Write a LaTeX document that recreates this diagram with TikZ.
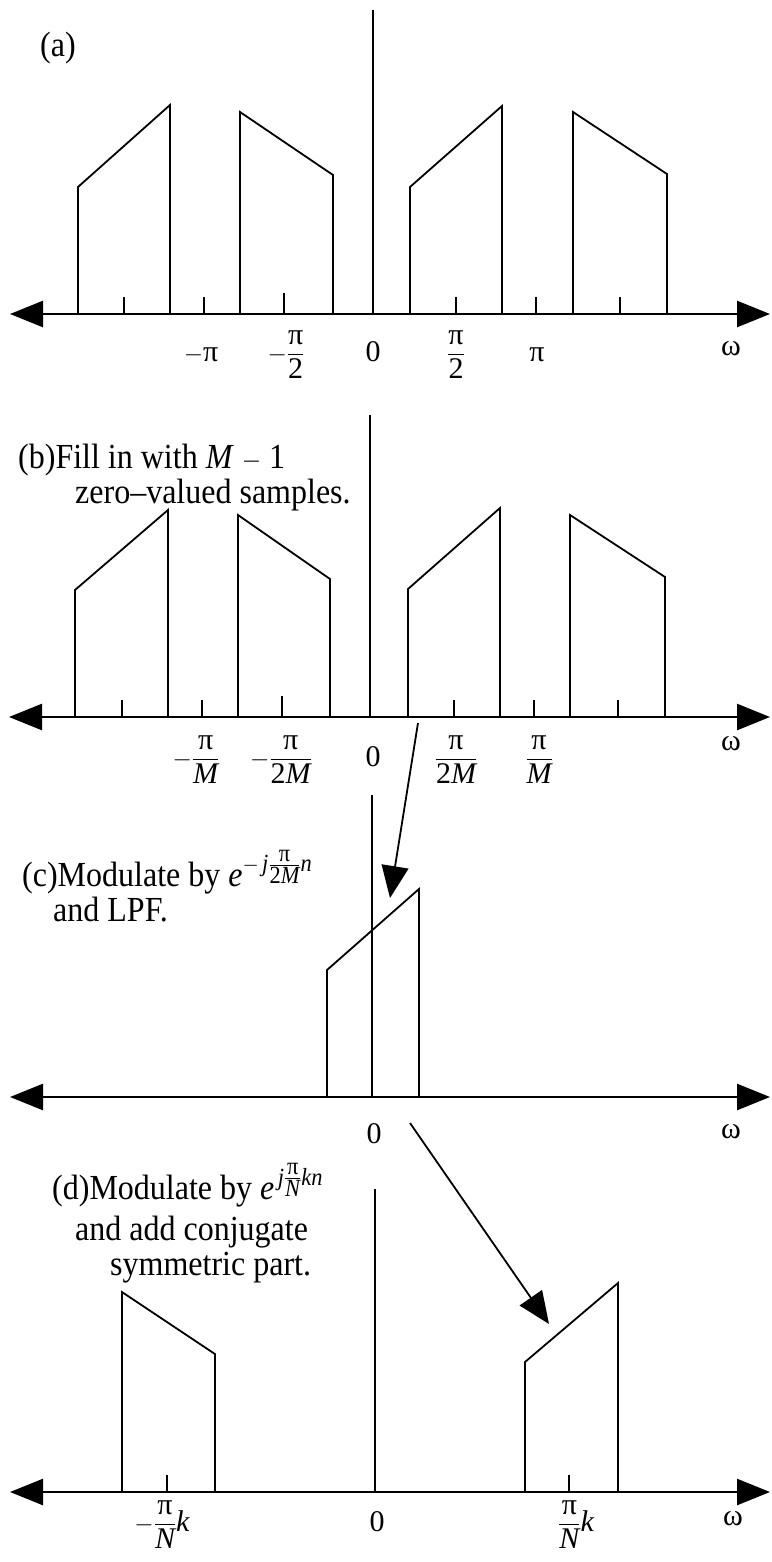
\documentclass[tikz,border=0pt]{standalone}
\usepackage{amsmath}
\usepackage{graphicx}
\usepackage{fontspec}
\setmainfont{Liberation Serif}
\usetikzlibrary{arrows.meta}

\newcommand{\gpi}{\textup{π}}
\newcommand{\itv}[1]{\textit{#1}}
\newcommand{\tallx}[1]{\scalebox{1}[1.1]{#1}}
\newcommand{\supfrac}[2]{\genfrac{}{}{}{1}{#1}{#2}}

\tikzset{
  axisline/.style={line width=2.6pt,{Triangle[length=33pt,width=26pt]}-{Triangle[length=33pt,width=26pt]}},
  spec/.style={line width=1.8pt},
  tickmark/.style={line width=1.6pt},
  lbl/.style={anchor=base,inner sep=0pt,font=\fontsize{30}{32}\selectfont},
  note/.style={anchor=base west,inner sep=0pt,font=\fontsize{32}{32}\selectfont},
  bigarrow/.style={line width=1.8pt,-{Triangle[length=32pt,width=27pt]}}
}

\begin{document}
\begin{tikzpicture}[x=1pt,y=-1pt]
\useasboundingbox (0,0) rectangle (771,1562);

% (a) original spectrum
\draw[axisline] (10,314) -- (770,314);
\draw[spec] (373,10) -- (373,314);
\draw[spec] (78,314) -- (78,187) -- (170,105) -- (170,314);
\draw[spec] (240,314) -- (240,112) -- (333,175) -- (333,314);
\draw[spec] (410,314) -- (410,187) -- (502,106) -- (502,314);
\draw[spec] (573,314) -- (573,112) -- (667,174) -- (667,314);
\foreach \x in {124,204,456,536,620}
  \draw[tickmark] (\x,314) -- (\x,297);
\draw[tickmark] (284,314) -- (284,293);
\node[note] (a-tag) at (40,57) {\tallx{(a)}};
\node[lbl] (a-mpi) at (201,361) {$-\gpi$};
\node[lbl] (a-mhalf) at (286,361) {$-\dfrac{\gpi}{\textup{2}}$};
\node[lbl] (a-zero) at (373,361) {0};
\node[lbl] (a-half) at (456,361) {$\dfrac{\gpi}{\textup{2}}$};
\node[lbl] (a-pi) at (537,361) {\gpi};
\node[lbl] (a-om) at (731,355) {ω};

% (b) zero-filled
\draw[axisline] (9,717) -- (770,717);
\draw[spec] (370,415) -- (370,717);
\draw[spec] (75,717) -- (75,590) -- (168,510) -- (168,717);
\draw[spec] (238,717) -- (238,515) -- (330,579) -- (330,717);
\draw[spec] (408,717) -- (408,589) -- (500,508) -- (500,717);
\draw[spec] (570,717) -- (570,515) -- (665,577) -- (665,717);
\foreach \x in {122,202,454,534,618}
  \draw[tickmark] (\x,717) -- (\x,700);
\draw[tickmark] (282,717) -- (282,696);
\node[note] (b-line1) at (18,468) {\tallx{(b)Fill in with \itv{M} $-$ 1}};
\node[note] (b-line2) at (75,503) {\tallx{zero–valued samples.}};
\node[lbl] (b-mpm) at (196,766) {$-\dfrac{\gpi}{\itv{M}}$};
\node[lbl] (b-mp2m) at (281,766) {$-\dfrac{\gpi}{\textup{2}\itv{M}}$};
\node[lbl] (b-zero) at (373,766) {0};
\node[lbl] (b-p2m) at (456,766) {$\dfrac{\gpi}{\textup{2}\itv{M}}$};
\node[lbl] (b-pm) at (539,766) {$\dfrac{\gpi}{\itv{M}}$};
\node[lbl] (b-om) at (731,750) {ω};

% (c) shifted and lowpassed
\draw[axisline] (10,1097) -- (770,1097);
\draw[spec] (372,795) -- (372,1097);
\draw[spec] (327,1097) -- (327,970) -- (419,889) -- (419,1097);
\node[note] (c-line1) at (22,886) {\tallx{(c)Modulate by $\itv{e}^{-\,\itv{j}\supfrac{\gpi}{\textup{2}\itv{M}}\itv{n}}$}};
\node[note] (c-line2) at (53,921) {\tallx{and LPF.}};
\node[lbl] (c-zero) at (374,1143) {0};
\node[lbl] (c-om) at (731,1138) {ω};

% (d) moved to channel k
\draw[axisline] (10,1492) -- (770,1492);
\draw[spec] (375,1189) -- (375,1492);
\draw[spec] (122,1492) -- (122,1292) -- (215,1354) -- (215,1492);
\draw[spec] (525,1492) -- (525,1362) -- (618,1283) -- (618,1492);
\foreach \x in {167,569}
  \draw[tickmark] (\x,1492) -- (\x,1475);
\node[note] (d-line1) at (52,1199) {\tallx{(d)Modulate by $\itv{e}^{\,\itv{j}\supfrac{\gpi}{\itv{N}}\itv{kn}}$}};
\node[note] (d-line2) at (75,1240) {\tallx{and add conjugate}};
\node[note] (d-line3) at (110,1275) {\tallx{symmetric part.}};
\node[lbl] (d-mk) at (162,1531) {$-\dfrac{\gpi}{\itv{N}}\itv{k}$};
\node[lbl] (d-zero) at (377,1531) {0};
\node[lbl] (d-pk) at (576,1531) {$\dfrac{\gpi}{\itv{N}}\itv{k}$};
\node[lbl] (d-om) at (733,1525) {ω};

% arrows between panels
\coordinate (b-out) at (418,723);
\coordinate (c-in) at (390,898);
\coordinate (c-out) at (410,1123);
\coordinate (d-in) at (549,1324);
\draw[bigarrow] (b-out) -- (c-in);
\draw[bigarrow] (c-out) -- (d-in);
\end{tikzpicture}
\end{document}
